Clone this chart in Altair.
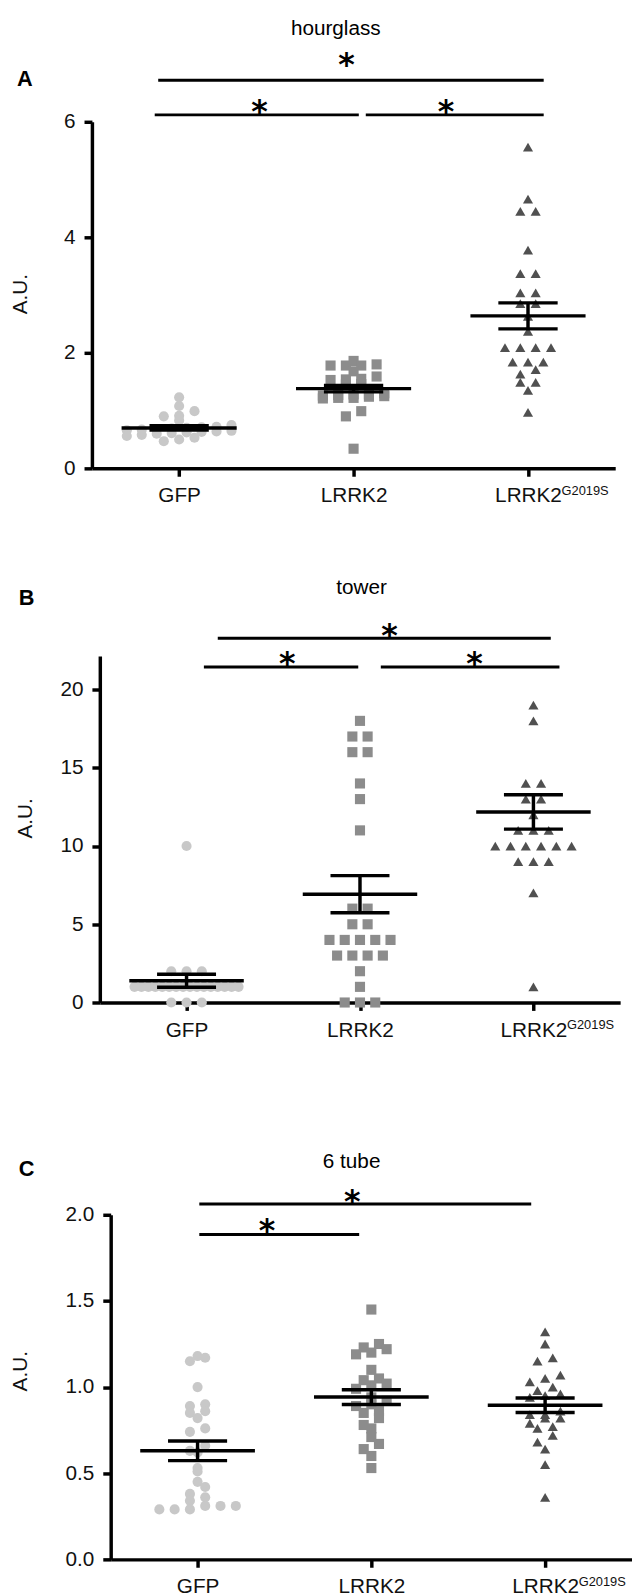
import altair as alt
import pandas as pd

FONT = "Liberation Sans"
STAR_FONT = "DejaVu Sans"

# ---------------- shared category info ----------------
CATEGORY_POS = [1, 2, 3]
CATEGORY_LABELS = ["GFP", "LRRK2", "LRRK2"]
SUPERSCRIPT = "G2019S"
COLORS = ["#c8c8c8", "#8c8c8c", "#505050"]
SHAPES = ["circle", "square", "triangle-up"]

# ---------------- Panel A : hourglass ----------------
A_GFP = [1.23, 1.08, 0.99, 0.91, 0.90, 0.83, 0.75, 0.72, 0.71, 0.70, 0.69, 0.68, 0.67,
         0.66, 0.65, 0.64, 0.63, 0.62, 0.61, 0.60, 0.58, 0.56, 0.53, 0.50, 0.47]
A_LRRK2 = [1.86, 1.80, 1.78, 1.78, 1.78, 1.68, 1.59, 1.55, 1.54, 1.53, 1.46, 1.45, 1.30,
           1.28, 1.28, 1.27, 1.26, 1.25, 1.24, 1.22, 1.22, 1.21, 0.99, 0.90, 0.34]
A_G2019S = [5.56, 4.66, 4.45, 4.45, 3.78, 3.37, 3.37, 3.04, 3.04, 2.85, 2.85, 2.63, 2.37,
            2.09, 2.09, 2.09, 2.09, 1.84, 1.84, 1.84, 1.71, 1.63, 1.49, 1.49, 1.35, 0.97]
A_MEAN = [0.70, 1.38, 2.64]
A_SEM = [0.036, 0.056, 0.225]
A_SIG_X1 = [0.88, 0.86, 2.07]
A_SIG_X2 = [3.09, 2.03, 3.09]
A_SIG_Y = [6.72, 6.12, 6.12]
A_STAR_X = [1.96, 1.46, 2.53]
A_STAR_Y = [7.09, 6.27, 6.27]
A_TICKS = [0, 2, 4, 6]

# ---------------- Panel B : tower ----------------
B_GFP = [10, 2, 2, 2, 1, 1, 1, 1, 1, 1, 1, 1, 1, 1, 1, 1, 1, 1, 1, 1, 0, 0, 0]
B_LRRK2 = [18, 17, 17, 16, 16, 14, 13, 11, 6, 6, 5, 5, 4, 4, 4, 4, 4, 3, 3, 3, 3, 2, 1, 0, 0, 0]
B_G2019S = [19, 18, 14, 14, 13, 13, 12, 11, 11, 11, 10, 10, 10, 10, 10, 10, 9, 9, 9, 7, 1]
B_MEAN = [1.39, 6.92, 12.18]
B_SEM = [0.42, 1.19, 1.10]
B_SIG_X1 = [1.18, 1.10, 2.12]
B_SIG_X2 = [3.10, 1.99, 3.15]
B_SIG_Y = [23.28, 21.45, 21.45]
B_STAR_X = [2.17, 1.58, 2.66]
B_STAR_Y = [23.79, 22.02, 22.02]
B_TICKS = [0, 5, 10, 15, 20]

# ---------------- Panel C : 6 tube ----------------
C_GFP = [1.18, 1.17, 1.15, 1.00, 0.90, 0.89, 0.86, 0.85, 0.82, 0.76, 0.74, 0.66, 0.63, 0.62,
         0.53, 0.51, 0.45, 0.42, 0.38, 0.36, 0.34, 0.31, 0.31, 0.31, 0.29, 0.29, 0.29]
C_LRRK2 = [1.45, 1.25, 1.23, 1.22, 1.20, 1.19, 1.10, 1.05, 1.04, 1.02, 1.01, 0.99, 0.94,
           0.92, 0.90, 0.89, 0.86, 0.85, 0.82, 0.78, 0.76, 0.71, 0.67, 0.64, 0.60, 0.53]
C_G2019S = [1.32, 1.25, 1.17, 1.15, 1.07, 1.05, 1.03, 1.00, 0.98, 0.96, 0.95, 0.94, 0.86,
            0.84, 0.84, 0.82, 0.82, 0.79, 0.77, 0.76, 0.72, 0.68, 0.64, 0.55, 0.36]
C_MEAN = [0.63, 0.942, 0.894]
C_SEM = [0.057, 0.043, 0.042]
C_SIG_X1 = [1.01, 1.01]
C_SIG_X2 = [2.92, 1.93]
C_SIG_Y = [2.063, 1.885]
C_STAR_X = [1.89, 1.40]
C_STAR_Y = [2.109, 1.937]
C_TICKS = [0, 0.5, 1.0, 1.5, 2.0]


def points_df(lists):
    rows = []
    for g, vals in zip(CATEGORY_POS, lists):
        for v in vals:
            rows.append({"group": g, "value": v})
    return pd.DataFrame(rows)


def make_panel(p):
    xs = alt.Scale(domain=[0.5, 3.5], nice=False, zero=False)
    ys = alt.Scale(domain=[0, p["ymax"]], nice=False, zero=False)
    label_expr = "[" + ",".join("'%s'" % s for s in CATEGORY_LABELS) + "][datum.value - 1]"

    pts = (
        alt.Chart(points_df(p["points"]))
        .transform_calculate(row="round(datum.value / %f)" % p["bin"])
        .transform_window(rank="row_number()", groupby=["group", "row"],
                          sort=[alt.SortField("value", order="ascending")])
        .transform_joinaggregate(n="count()", groupby=["group", "row"])
        .transform_calculate(
            xpos="datum.group + (datum.rank - (datum.n + 1) / 2) * min(0.088, 0.6 / max(datum.n - 1, 1))"
        )
        .mark_point(filled=True, opacity=1, strokeWidth=0, size=105)
        .encode(
            x=alt.X("xpos:Q", scale=xs,
                    axis=alt.Axis(values=CATEGORY_POS, labelExpr=label_expr, title=None,
                                  labelFlush=False)),
            y=alt.Y("value:Q", scale=ys,
                    axis=alt.Axis(values=p["ticks"], format=p["fmt"], title="A.U.",
                                  titleX=p["au_x"], titleY=p["au_y"], titleAngle=270,
                                  titleAlign="center", titleBaseline="middle",
                                  labelFlush=False)),
            shape=alt.Shape("group:N", scale=alt.Scale(domain=CATEGORY_POS, range=SHAPES), legend=None),
            color=alt.Color("group:N", scale=alt.Scale(domain=CATEGORY_POS, range=COLORS), legend=None),
        )
    )

    sdf = pd.DataFrame({"group": CATEGORY_POS, "mean": p["mean"], "sem": p["sem"]})
    summ = alt.Chart(sdf).transform_calculate(
        lo="datum.mean - datum.sem", hi="datum.mean + datum.sem",
        m1="datum.group - 0.33", m2="datum.group + 0.33",
        c1="datum.group - 0.17", c2="datum.group + 0.17",
    )
    rule_style = dict(color="black", strokeWidth=3.5)
    mean_rule = summ.mark_rule(**rule_style).encode(
        x=alt.X("m1:Q", scale=xs), x2="m2:Q", y=alt.Y("mean:Q", scale=ys))
    hi_rule = summ.mark_rule(**rule_style).encode(
        x=alt.X("c1:Q", scale=xs), x2="c2:Q", y=alt.Y("hi:Q", scale=ys))
    lo_rule = summ.mark_rule(**rule_style).encode(
        x=alt.X("c1:Q", scale=xs), x2="c2:Q", y=alt.Y("lo:Q", scale=ys))
    vert = summ.mark_rule(**rule_style).encode(
        x=alt.X("group:Q", scale=xs), y=alt.Y("lo:Q", scale=ys), y2="hi:Q")

    sig_df = pd.DataFrame({"x1": p["sig_x1"], "x2": p["sig_x2"], "y": p["sig_y"]})
    sig = alt.Chart(sig_df).mark_rule(color="black", strokeWidth=3).encode(
        x=alt.X("x1:Q", scale=xs), x2="x2:Q", y=alt.Y("y:Q", scale=ys))

    star_df = pd.DataFrame({"x": p["star_x"], "y": p["star_y"], "t": ["*"] * len(p["star_x"])})
    stars = alt.Chart(star_df).mark_text(
        font=STAR_FONT, fontSize=32, fontWeight="bold", baseline="alphabetic", dy=16,
        align="center", color="black"
    ).encode(x=alt.X("x:Q", scale=xs), y=alt.Y("y:Q", scale=ys), text="t:N")

    sup_df = pd.DataFrame({"x": [CATEGORY_POS[2]], "t": [SUPERSCRIPT]})
    sup = alt.Chart(sup_df).mark_text(
        fontSize=13, align="left", baseline="alphabetic", dx=34, color="#111111"
    ).encode(x=alt.X("x:Q", scale=xs), y=alt.value(p["height"] + 27), text="t:N")

    letter_df = pd.DataFrame({"t": [p["letter"]]})
    letter = alt.Chart(letter_df).mark_text(
        fontSize=22, fontWeight="bold", align="left", baseline="alphabetic", color="black"
    ).encode(x=alt.value(p["letter_x"]), y=alt.value(p["letter_y"]), text="t:N")

    title_df = pd.DataFrame({"t": [p["title"]]})
    title = alt.Chart(title_df).mark_text(
        fontSize=21, align="center", baseline="alphabetic", color="black"
    ).encode(x=alt.value(p["title_x"]), y=alt.value(p["title_y"]), text="t:N")

    layers = [pts, mean_rule, hi_rule, lo_rule, vert, sig, stars, sup, letter, title]
    if p.get("spacer") is not None:
        spacer = alt.Chart(pd.DataFrame({"s": [0]})).mark_point(opacity=0, size=1).encode(
            x=alt.value(0), y=alt.value(p["spacer"]))
        layers.append(spacer)

    panel = alt.layer(*layers).properties(width=p["width"], height=p["height"])

    # an empty, invisible strip to the left sets where this panel's plot starts
    indent = (
        alt.Chart(pd.DataFrame({"s": [0]}))
        .mark_point(opacity=0, size=1)
        .encode(x=alt.value(p["indent"]), y=alt.value(0))
        .properties(width=p["indent"], height=10)
    )
    return alt.hconcat(indent, panel, spacing=0)


panel_a = make_panel(dict(
    points=[A_GFP, A_LRRK2, A_G2019S], mean=A_MEAN, sem=A_SEM,
    sig_x1=A_SIG_X1, sig_x2=A_SIG_X2, sig_y=A_SIG_Y, star_x=A_STAR_X, star_y=A_STAR_Y,
    ticks=A_TICKS, fmt="d", ymax=6, bin=0.12, width=530, height=351,
    au_x=-72, au_y=174, letter="A", letter_x=-76, letter_y=-36, indent=1.3,
    title="hourglass", title_x=247, title_y=-88,
))
panel_b = make_panel(dict(
    points=[B_GFP, B_LRRK2, B_G2019S], mean=B_MEAN, sem=B_SEM,
    sig_x1=B_SIG_X1, sig_x2=B_SIG_X2, sig_y=B_SIG_Y, star_x=B_STAR_X, star_y=B_STAR_Y,
    ticks=B_TICKS, fmt="d", ymax=22.15, bin=1.0, width=527, height=351,
    au_x=-75, au_y=164, letter="B", letter_x=-82, letter_y=-52, indent=6.3,
    title="tower", title_x=265, title_y=-63,
))
panel_c = make_panel(dict(
    points=[C_GFP, C_LRRK2, C_G2019S], mean=C_MEAN, sem=C_SEM,
    sig_x1=C_SIG_X1, sig_x2=C_SIG_X2, sig_y=C_SIG_Y, star_x=C_STAR_X, star_y=C_STAR_Y,
    ticks=C_TICKS, fmt=".1f", ymax=2.0, bin=0.05, width=528, height=349,
    au_x=-91, au_y=158, letter="C", letter_x=-93, letter_y=-39, indent=1.3,
    title="6 tube", title_x=244, title_y=-47, spacer=-104,
))

chart = (
    alt.vconcat(panel_a, panel_b, panel_c, spacing=72)
    .properties(padding=0)
    .configure(font=FONT)
    .configure_view(stroke=None)
    .configure_axis(
        domainColor="black", domainWidth=3.5, tickColor="black", tickWidth=3.5, tickSize=8,
        labelFont=FONT, labelFontSize=21, labelColor="#111111", labelPadding=9, grid=False,
        titleFont=FONT, titleFontSize=21, titleFontWeight="normal", titleColor="#111111",
        labelFlush=False,
    )
)

chart.save("out.html", embed_options={"renderer": "svg", "actions": False})
